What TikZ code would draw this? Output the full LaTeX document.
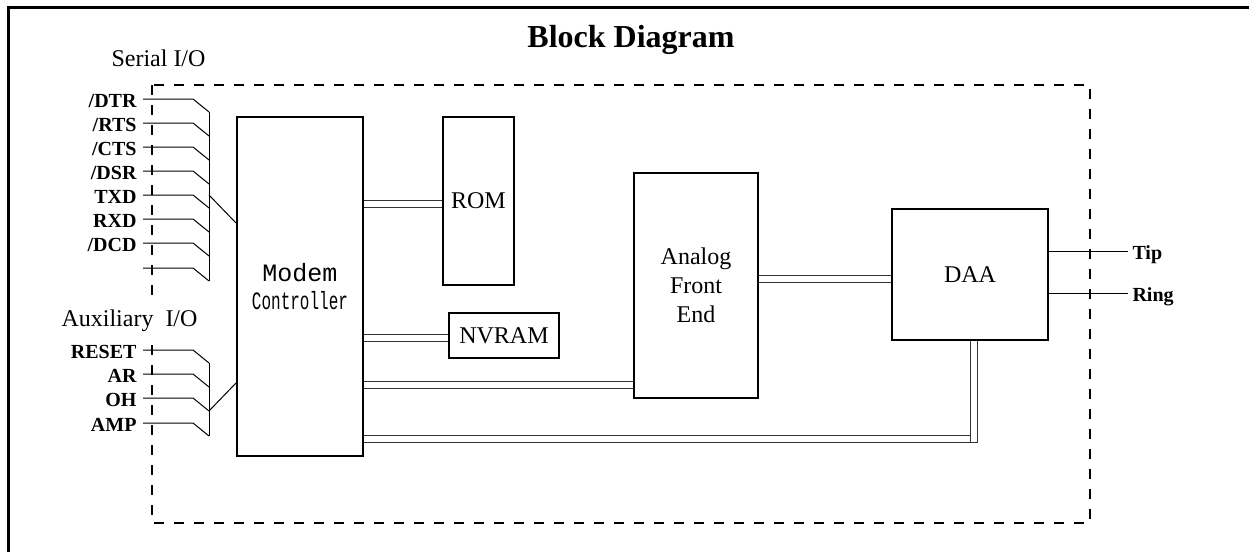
\documentclass[tikz,border=0pt]{standalone}
\usepackage{fontspec}
\setmainfont{Liberation Serif}
\setmonofont{Liberation Mono}
\usepackage{graphicx}

\begin{document}
\begin{tikzpicture}[x=0.5pt, y=-0.5pt,
        blk/.style={draw, line width=1pt, align=center, font=\fontsize{12}{14.5}\selectfont},
        bus/.style={draw=black!80, line width=0.5pt, double=white, double distance=3pt},
        sig/.style={line width=0.5pt},
        siglbl/.style={anchor=base east, inner sep=0pt, xshift=-3pt, yshift=-4.25pt, font=\bfseries\fontsize{10}{11}\selectfont},
        linelbl/.style={anchor=base west, inner sep=0pt, xshift=2pt, yshift=-4pt, font=\bfseries\fontsize{10}{11}\selectfont},
        grp/.style={anchor=base, font=\fontsize{12}{14}\selectfont}]
        \useasboundingbox (0,0) rectangle (1249,552);

        % Frame and title
        \draw[line width=1.5pt] (8,552) -- (8,7) -- (1249,7);
        \node[anchor=base, font=\bfseries\fontsize{16}{18}\selectfont] (title) at (631,47) {Block Diagram};

        % Modem boundary
        \draw[line width=1.4pt, dash pattern=on 5pt off 5pt] (152,85) rectangle (1090,523);
        \node[grp] (serial) at (158.5,66) {Serial I/O};
        \node[grp, fill=white] (aux) at (129.5,326) {Auxiliary\ \ I/O};

        % Blocks
        \node[blk, minimum width=63pt, minimum height=169.5pt, font=\ttfamily\fontsize{12.5}{14}\selectfont] (mc) at (300,286.5) {Modem\\\scalebox{0.64}[1]{Controller}};
        \node[blk, minimum width=35.5pt, minimum height=84pt] (rom) at (478.5,201) {ROM};
        \node[blk, minimum width=55pt, minimum height=22.5pt] (nvram) at (504,335.5) {NVRAM};
        \node[blk, minimum width=62pt, minimum height=112.5pt] (afe) at (696,285.5) {Analog\\Front\\End};
        \node[blk, line width=0.6pt, minimum width=78pt, minimum height=65.5pt] (daa) at (970,274.5) {DAA};

        % Buses
        \coordinate (bend) at (974,438.5);
        \draw[bus] (mc.east |- 0,204) -- (rom.west |- 0,204);
        \draw[bus] (mc.east |- 0,338) -- (nvram.west |- 0,338);
        \draw[bus] (mc.east |- 0,385) -- (afe.west |- 0,385);
        \draw[bus] (afe.east |- 0,279) -- (daa.west |- 0,279);
        \draw[bus] (mc.east |- bend) -- ([xshift=1.75pt]bend);
        \draw[bus] (daa.south -| bend) -- ([yshift=-1.75pt]bend);

        % Serial I/O lines
        \draw[sig] (143,99) node[siglbl] (dtr) {/DTR} -- (193,99) -- (209,112);
        \draw[sig] (143,123) node[siglbl] (rts) {/RTS} -- (193,123) -- (209,136);
        \draw[sig] (143,147) node[siglbl] (cts) {/CTS} -- (193,147) -- (209,160);
        \draw[sig] (143,171) node[siglbl] (dsr) {/DSR} -- (193,171) -- (209,184);
        \draw[sig] (143,195) node[siglbl] (txd) {TXD} -- (193,195) -- (209,208);
        \draw[sig] (143,219) node[siglbl] (rxd) {RXD} -- (193,219) -- (209,232);
        \draw[sig] (143,243) node[siglbl] (dcd) {/DCD} -- (193,243) -- (209,256);
        \draw[sig] (143,268) -- (193,268) -- (209,281);
        \draw[sig] (209,112) -- (209,281);
        \draw[sig] (209,195) -- (mc.west |- 0,223);

        % Auxiliary I/O lines
        \draw[sig] (143,350) node[siglbl] (reset) {RESET} -- (193,350) -- (209,363);
        \draw[sig] (143,374) node[siglbl] (ar) {AR} -- (193,374) -- (209,387);
        \draw[sig] (143,398) node[siglbl] (oh) {OH} -- (193,398) -- (209,411);
        \draw[sig] (143,423) node[siglbl] (amp) {AMP} -- (193,423) -- (209,436);
        \draw[sig] (209,363) -- (209,436);
        \draw[sig] (209,411) -- (mc.west |- 0,383);

        % Telephone line
        \draw[sig] (daa.east |- 0,251) -- (1128,251) node[linelbl] (tip) {Tip};
        \draw[sig] (daa.east |- 0,293) -- (1128,293) node[linelbl] (ring) {Ring};
    \end{tikzpicture}
\end{document}
